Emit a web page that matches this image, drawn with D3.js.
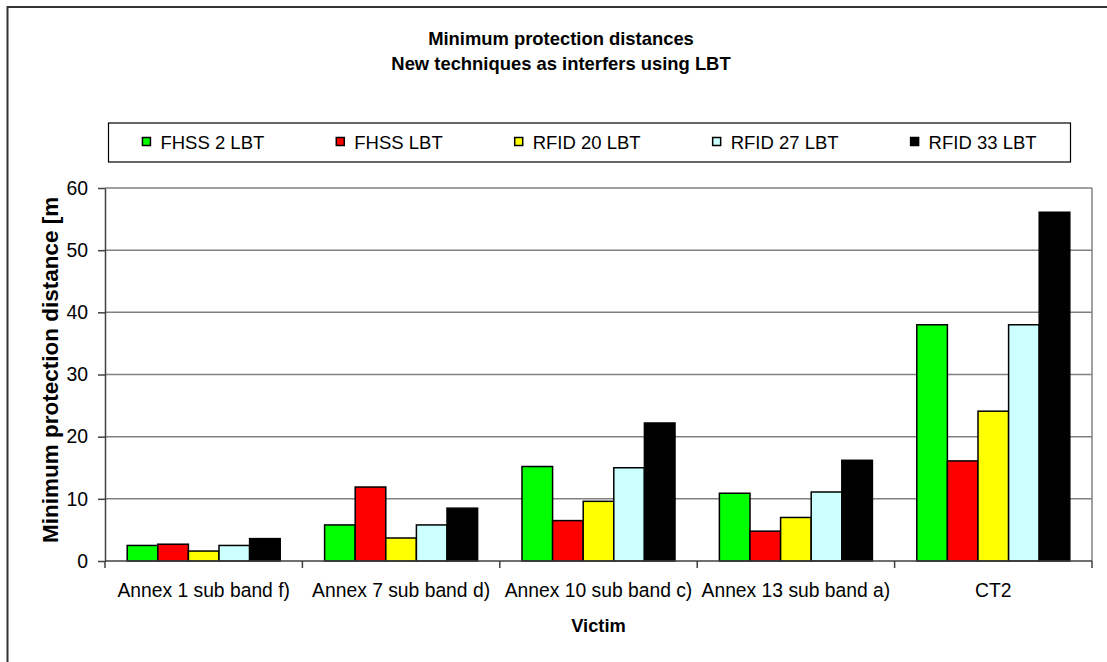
<!DOCTYPE html>
<html>
<head>
<meta charset="utf-8">
<script src="https://cdn.jsdelivr.net/npm/d3@7"></script>
<style>
  html, body { margin: 0; padding: 0; background: #fff; }
  svg { display: block; }
  text { font-family: "Liberation Sans", Arial, sans-serif; fill: #000; }
</style>
</head>
<body>
<svg id="chart" width="1107" height="662"></svg>
<script>
const categories = ["Annex 1 sub band f)", "Annex 7 sub band d)", "Annex 10 sub band c)", "Annex 13 sub band a)", "CT2"];
const seriesNames = ["FHSS 2 LBT", "FHSS LBT", "RFID 20 LBT", "RFID 27 LBT", "RFID 33 LBT"];
const fhss2Lbt = [2.5, 5.8, 15.2, 10.9, 38.0];
const fhssLbt = [2.7, 11.9, 6.5, 4.8, 16.1];
const rfid20Lbt = [1.6, 3.7, 9.6, 7.0, 24.1];
const rfid27Lbt = [2.5, 5.8, 15.0, 11.1, 38.0];
const rfid33Lbt = [3.6, 8.5, 22.2, 16.2, 56.1];
const seriesColors = ["#00FF00", "#FF0000", "#FFFF00", "#CCFFFF", "#000000"];
const yTicks = [0, 10, 20, 30, 40, 50, 60];
const titleLines = ["Minimum protection distances", "New techniques as interfers using LBT"];
const yTitle = "Minimum protection distance [m";
const xTitle = "Victim";

const seriesValues = [fhss2Lbt, fhssLbt, rfid20Lbt, rfid27Lbt, rfid33Lbt];

const svg = d3.select("#chart");
const plot = { left: 105, right: 1092, top: 188, bottom: 561 };

// outer chart border
svg.append("rect")
  .attr("x", 7.5).attr("y", 7).attr("width", 1110).attr("height", 700)
  .attr("fill", "#fff").attr("stroke", "#333").attr("stroke-width", 2);

// title
const titleCx = 561;
svg.selectAll("text.title").data(titleLines).enter().append("text")
  .attr("class", "title")
  .attr("x", titleCx)
  .attr("y", (d, i) => 45 + i * 25)
  .attr("text-anchor", "middle")
  .style("font-weight", "bold")
  .style("font-size", "18.4px")
  .text(d => d);

// scales
const x0 = d3.scaleBand().domain(categories).range([plot.left, plot.right]).padding(0);
const gapRatio = 1.45;
const barW = x0.bandwidth() / (seriesNames.length + gapRatio);
const x1 = d3.scaleBand().domain(seriesNames)
  .range([barW * gapRatio / 2, x0.bandwidth() - barW * gapRatio / 2]).padding(0);
const y = d3.scaleLinear().domain([0, 60]).range([plot.bottom, plot.top]);

// gridlines
svg.append("g").selectAll("line").data(yTicks.filter(t => t > 0)).enter().append("line")
  .attr("x1", plot.left).attr("x2", plot.right)
  .attr("y1", d => y(d)).attr("y2", d => y(d))
  .attr("stroke", "#808080").attr("stroke-width", 1.5);

// plot area right border
svg.append("line")
  .attr("x1", plot.right).attr("x2", plot.right)
  .attr("y1", plot.top).attr("y2", plot.bottom)
  .attr("stroke", "#808080").attr("stroke-width", 1.5);

// bars
const groups = svg.append("g").selectAll("g").data(categories).enter().append("g")
  .attr("transform", c => `translate(${x0(c)},0)`);
groups.selectAll("rect").data((c, ci) => seriesNames.map((s, si) => ({ s, si, v: seriesValues[si][ci] })))
  .enter().append("rect")
  .attr("x", d => x1(d.s))
  .attr("width", x1.bandwidth())
  .attr("y", d => y(d.v))
  .attr("height", d => y(0) - y(d.v))
  .attr("fill", d => seriesColors[d.si])
  .attr("stroke", "#000").attr("stroke-width", 1.5);

// y axis
const yAxis = d3.axisLeft(y).tickValues(yTicks).tickSizeInner(7).tickSizeOuter(0).tickPadding(10);
const gy = svg.append("g").attr("transform", `translate(${plot.left},0)`).call(yAxis);
gy.select(".domain").attr("stroke", "#404040").attr("stroke-width", 1.5);
gy.selectAll(".tick line").attr("stroke", "#404040").attr("stroke-width", 1.5);
gy.selectAll(".tick text").style("font-size", "19.4px").attr("fill", "#000")
  .style("font-family", '"Liberation Sans", Arial, sans-serif');

// x axis (ticks at category boundaries)
const boundaries = categories.map(c => x0(c)).concat([x0.range()[1]]);
const gx = svg.append("g");
gx.append("line")
  .attr("x1", plot.left).attr("x2", plot.right)
  .attr("y1", y(0)).attr("y2", y(0))
  .attr("stroke", "#404040").attr("stroke-width", 1.5);
gx.selectAll("line.tk").data(boundaries).enter().append("line")
  .attr("class", "tk")
  .attr("x1", d => d).attr("x2", d => d)
  .attr("y1", y(0)).attr("y2", y(0) + 7)
  .attr("stroke", "#404040").attr("stroke-width", 1.5);
gx.selectAll("text").data(categories).enter().append("text")
  .attr("x", c => x0(c) + x0.bandwidth() / 2)
  .attr("y", 597)
  .attr("text-anchor", "middle")
  .style("font-size", "19.3px")
  .text(c => c);

// axis titles
svg.append("text")
  .attr("x", (plot.left + plot.right) / 2)
  .attr("y", 632)
  .attr("text-anchor", "middle")
  .style("font-weight", "bold")
  .style("font-size", "18.3px")
  .text(xTitle);

svg.append("text")
  .attr("transform", `translate(58,543) rotate(-90)`)
  .attr("text-anchor", "start")
  .style("font-weight", "bold")
  .style("font-size", "22.5px")
  .text(yTitle);

// legend
const legendBox = { x: 108.5, y: 123, w: 962, h: 39 };
const lg = svg.append("g");
lg.append("rect")
  .attr("x", legendBox.x).attr("y", legendBox.y)
  .attr("width", legendBox.w).attr("height", legendBox.h)
  .attr("fill", "#fff").attr("stroke", "#000").attr("stroke-width", 1.2);

const legendFont = 18.5;
const items = lg.selectAll("g.item").data(seriesNames).enter().append("g").attr("class", "item");
items.append("rect")
  .attr("width", 8).attr("height", 8)
  .attr("y", 137.5)
  .attr("fill", (d, i) => seriesColors[i])
  .attr("stroke", "#000").attr("stroke-width", 1.5);
items.append("text")
  .attr("y", 149)
  .style("font-size", legendFont + "px")
  .text(d => d);

const widths = [];
items.select("text").each(function () { widths.push(this.getComputedTextLength()); });
const swatchToText = 18;
const itemGap = 72;
const totalW = d3.sum(widths) + widths.length * swatchToText + (widths.length - 1) * itemGap;
let cx = legendBox.x + (legendBox.w - totalW) / 2;
items.each(function (d, i) {
  const g = d3.select(this);
  g.select("rect").attr("x", cx);
  g.select("text").attr("x", cx + swatchToText);
  cx += swatchToText + widths[i] + itemGap;
});
</script>
</body>
</html>
